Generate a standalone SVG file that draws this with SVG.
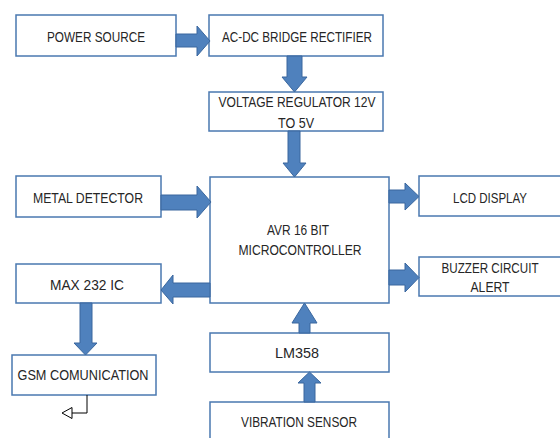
<svg xmlns="http://www.w3.org/2000/svg" width="560" height="438" viewBox="0 0 560 438">
<style>
.box{fill:#fff;stroke:#4a78b0;stroke-width:1.5}
.t{font-family:"Liberation Sans",Arial,sans-serif;font-size:14px;fill:#262626;text-anchor:middle}
.arr{fill:#4f81bd;stroke:#3a679e;stroke-width:1}
.ln{fill:none;stroke:#000;stroke-width:1}
</style>
<rect width="560" height="438" fill="#fff"/>
<g id="power"><rect class="box" x="16" y="15" width="160" height="41"/><text class="t" x="96" y="42" textLength="98" lengthAdjust="spacingAndGlyphs">POWER SOURCE</text></g>
<g id="rectifier"><rect class="box" x="209" y="15" width="174" height="41"/><text class="t" x="297" y="42" textLength="150" lengthAdjust="spacingAndGlyphs">AC-DC BRIDGE RECTIFIER</text></g>
<g id="regulator"><rect class="box" x="209" y="92" width="174" height="39"/><text class="t" x="297" y="107" textLength="157" lengthAdjust="spacingAndGlyphs">VOLTAGE REGULATOR 12V</text><text class="t" x="296" y="128" textLength="36" lengthAdjust="spacingAndGlyphs">TO 5V</text></g>
<g id="metal"><rect class="box" x="16" y="176" width="145" height="41"/><text class="t" x="88" y="203" textLength="110" lengthAdjust="spacingAndGlyphs">METAL DETECTOR</text></g>
<g id="avr"><rect class="box" x="210" y="177" width="179" height="126"/><text class="t" x="298" y="235" textLength="62" lengthAdjust="spacingAndGlyphs">AVR 16 BIT</text><text class="t" x="300" y="255" textLength="123" lengthAdjust="spacingAndGlyphs">MICROCONTROLLER</text></g>
<g id="lcd"><rect class="box" x="419" y="176" width="145" height="40"/><text class="t" x="490" y="203" textLength="74" lengthAdjust="spacingAndGlyphs">LCD DISPLAY</text></g>
<g id="buzzer"><rect class="box" x="419" y="257" width="145" height="39"/><text class="t" x="490" y="273" textLength="97" lengthAdjust="spacingAndGlyphs">BUZZER CIRCUIT</text><text class="t" x="490" y="292" textLength="39" lengthAdjust="spacingAndGlyphs">ALERT</text></g>
<g id="max232"><rect class="box" x="16" y="264" width="145" height="39"/><text class="t" x="87" y="290" textLength="74" lengthAdjust="spacingAndGlyphs">MAX 232 IC</text></g>
<g id="gsm"><rect class="box" x="12" y="355" width="144" height="40"/><text class="t" x="83" y="380" textLength="131" lengthAdjust="spacingAndGlyphs">GSM COMUNICATION</text></g>
<g id="lm358"><rect class="box" x="210" y="333" width="179" height="39"/><text class="t" x="297" y="358" textLength="44" lengthAdjust="spacingAndGlyphs">LM358</text></g>
<g id="vibration"><rect class="box" x="210" y="402" width="179" height="40"/><text class="t" x="299" y="427" textLength="116" lengthAdjust="spacingAndGlyphs">VIBRATION SENSOR</text></g>
<g id="connectors">
<polygon class="arr" points="176,34 197,34 197,26 210,41 197,56 197,47 176,47"/>
<polygon class="arr" points="287,56 302,56 302,77 307,77 294.5,92 282,77 287,77"/>
<polygon class="arr" points="288,131 300,131 300,163 306,163 294.5,177 283,163 288,163"/>
<polygon class="arr" points="161,195 197,195 197,186 211,202 197,218 197,210 161,210"/>
<polygon class="arr" points="389,190 405,190 405,183 419,196.5 405,210 405,203 389,203"/>
<polygon class="arr" points="389,270 405,270 405,263 419,277.5 405,292 405,285 389,285"/>
<polygon class="arr" points="210,283 173,283 173,275 161,290 173,304 173,297 210,297"/>
<polygon class="arr" points="80,303 92,303 92,343 97,343 85.5,355 74,343 80,343"/>
<polygon class="arr" points="299,333 310,333 310,323 317,323 304.5,303 292,323 299,323"/>
<polygon class="arr" points="304,402 315,402 315,383 321,383 309.5,372 298,383 304,383"/>
<polyline class="ln" points="87,395 87,413 72,413"/>
<polygon points="72,407.5 72,418.5 62,413" fill="#fff" stroke="#000" stroke-width="1"/>
</g>
</svg>
